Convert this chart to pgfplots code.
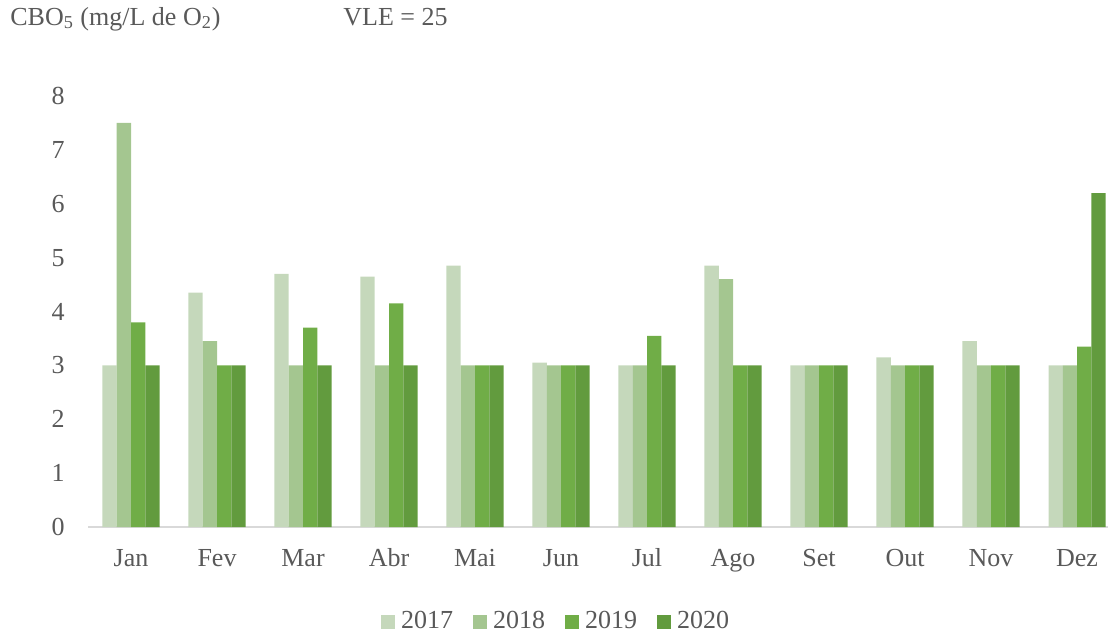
\documentclass[border=0pt]{standalone}
\usepackage{pgfplots}
\usepackage{pgfplotstable}
\pgfplotsset{compat=1.18}
\usepackage{fontspec}
\setmainfont{Liberation Serif}

\definecolor{cA}{HTML}{C5D8BB}
\definecolor{cB}{HTML}{A4C690}
\definecolor{cC}{HTML}{70AD47}
\definecolor{cD}{HTML}{629B3E}
\definecolor{txt}{HTML}{595959}
\definecolor{axln}{HTML}{D9D9D9}

% CBO5 monthly values, x = month index (0 = Jan)
\pgfplotstableread{
x  y2017 y2018 y2019 y2020
0  3.00  7.50  3.80  3.00
1  4.35  3.45  3.00  3.00
2  4.70  3.00  3.70  3.00
3  4.65  3.00  4.15  3.00
4  4.85  3.00  3.00  3.00
5  3.05  3.00  3.00  3.00
6  3.00  3.00  3.55  3.00
7  4.85  4.60  3.00  3.00
8  3.00  3.00  3.00  3.00
9  3.15  3.00  3.00  3.00
10 3.45  3.00  3.00  3.00
11 3.00  3.00  3.35  6.20
}\cbo

\begin{document}
\begin{tikzpicture}
\path[use as bounding box] (0,0) rectangle (556pt,-317pt);
\node[anchor=base west, inner sep=0pt, text=txt, font=\fontsize{13}{15}\selectfont]
  at (5pt,-12.5pt) {CBO\textsubscript{5} (mg/L de O\textsubscript{2})};
\node[anchor=base west, inner sep=0pt, text=txt, font=\fontsize{13}{15}\selectfont]
  at (171.5pt,-12.5pt) {VLE = 25};
\begin{axis}[
  at={(44pt,-263.5pt)}, anchor=south west,
  scale only axis, width=510pt, height=215.5pt,
  ybar=0pt, bar width=0.166,
  xmin=-0.5, xmax=11.36, ymin=0, ymax=8,
  xtick={0,...,11},
  xticklabels={Jan,Fev,Mar,Abr,Mai,Jun,Jul,Ago,Set,Out,Nov,Dez},
  ytick={0,...,8},
  yticklabels={0,1,2,3,4,5,6,7,8},
  major tick length=0pt,
  axis x line*=bottom, axis y line*=left,
  x axis line style={draw=axln, line width=1pt, -},
  y axis line style={draw=none},
  tick label style={text=txt, font=\fontsize{13}{15}\selectfont},
  yticklabel style={anchor=east, inner sep=0pt, xshift=-11.5pt},
  xticklabel style={anchor=base, inner sep=0pt, yshift=-19.5pt},
  legend image code/.code={\fill[#1] (0pt,-3.5pt) rectangle (7pt,3.5pt);},
  legend style={at={(0.461,-0.220)}, anchor=center, draw=none,
    font=\fontsize{13}{15}\selectfont, text=txt,
    nodes={inner xsep=3pt},
    /tikz/every even column/.append style={column sep=7pt}},
  legend columns=4,
]
  \addplot[fill=cA, draw=none] table[x=x, y=y2017] {\cbo};
  \addplot[fill=cB, draw=none] table[x=x, y=y2018] {\cbo};
  \addplot[fill=cC, draw=none] table[x=x, y=y2019] {\cbo};
  \addplot[fill=cD, draw=none] table[x=x, y=y2020] {\cbo};
  \legend{2017,2018,2019,2020}
\end{axis}
\end{tikzpicture}
\end{document}
